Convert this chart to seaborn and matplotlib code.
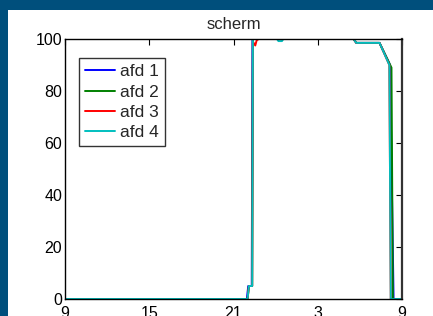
import pandas as pd
import matplotlib
matplotlib.use('Agg')
import matplotlib.pyplot as plt
import seaborn as sns
from matplotlib.patches import Rectangle

# hours since 9:00 of day 1 (27 = 3:00 next day, 33 = 9:00 next day)
hours_1 = [9, 21.95, 22.05, 22.3, 22.35, 29.55, 29.75, 31.4, 32.15, 32.4, 33]
afd_1 = [0, 0, 5, 5, 100, 100, 98.5, 98.5, 90, 0, 0]

hours_2 = [9, 22.0, 22.1, 22.33, 22.38, 29.55, 29.75, 31.4, 32.25, 32.35, 33]
afd_2 = [0, 0, 5, 5, 100, 100, 98.5, 98.5, 89, 0, 0]

hours_3 = [9, 22.0, 22.1, 22.33, 22.38, 22.55, 22.65, 22.8, 29.55, 29.75, 31.4, 32.1, 32.2, 33]
afd_3 = [0, 0, 5, 5, 99, 97.5, 99.5, 100, 100, 98.5, 98.5, 90, 0, 0]

hours_4 = [9, 22.0, 22.1, 22.33, 22.38, 24.1, 24.2, 24.45, 24.55, 29.55, 29.75, 31.4, 32.1, 32.2, 33]
afd_4 = [0, 0, 5, 5, 100, 100, 99.2, 99.2, 100, 100, 98.5, 98.5, 90, 0, 0]

series_names = ['afd 1', 'afd 2', 'afd 3', 'afd 4']
x_ticks = [9, 15, 21, 27, 33]
x_labels = ['9', '15', '21', '3', '9']

frames = []
for name, h, v in zip(series_names, [hours_1, hours_2, hours_3, hours_4], [afd_1, afd_2, afd_3, afd_4]):
    frames.append(pd.DataFrame({'uur': h, 'waarde': v, 'afdeling': name}))
df = pd.concat(frames, ignore_index=True)

sns.set_style('white')
plt.rcParams['font.family'] = ['Liberation Sans', 'DejaVu Sans']

fig = plt.figure(figsize=(4.33, 3.16), dpi=100, facecolor='#004F7C')
# white panel behind the plot
fig.patches.append(Rectangle((8 / 433, 0), 1, (316 - 10) / 316, transform=fig.transFigure,
                             facecolor='white', edgecolor='none', zorder=-10))
ax = fig.add_axes([65 / 433, 17 / 316, 337 / 433, 260 / 316])
ax.set_zorder(1)

palette = {'afd 1': (0, 0, 1), 'afd 2': (0, 0.5, 0), 'afd 3': (1, 0, 0), 'afd 4': (0, 0.75, 0.75)}
sns.lineplot(data=df, x='uur', y='waarde', hue='afdeling', palette=palette,
             sort=False, estimator=None, linewidth=1.4, ax=ax)

ax.set_xlim(9, 33)
ax.set_ylim(0, 100)
ax.set_xticks(x_ticks)
ax.set_xticklabels(x_labels)
ax.set_yticks([0, 20, 40, 60, 80, 100])
ax.set_xlabel('')
ax.set_ylabel('')
ax.set_title('scherm', fontsize=12, pad=7)
ax.tick_params(direction='in', length=4, width=0.8, top=True, right=True,
               labelsize=11.5, colors='black')
ax.tick_params(axis='x', pad=5)
ax.tick_params(axis='y', pad=2)
for s in ax.spines.values():
    s.set_color('black')
    s.set_linewidth(1.0)
ax.spines['right'].set_color('#333333')
ax.spines['right'].set_linewidth(1.6)

leg = ax.legend(loc='upper left', bbox_to_anchor=(14 / 337, 1 - 19 / 260), borderaxespad=0,
                frameon=True, fancybox=False, edgecolor='black', fontsize=12.5,
                handlelength=1.75, handletextpad=0.25, labelspacing=0.3, borderpad=0.35)
leg.get_frame().set_linewidth(1.0)

fig.savefig('out.png', dpi=100, facecolor=fig.get_facecolor())
